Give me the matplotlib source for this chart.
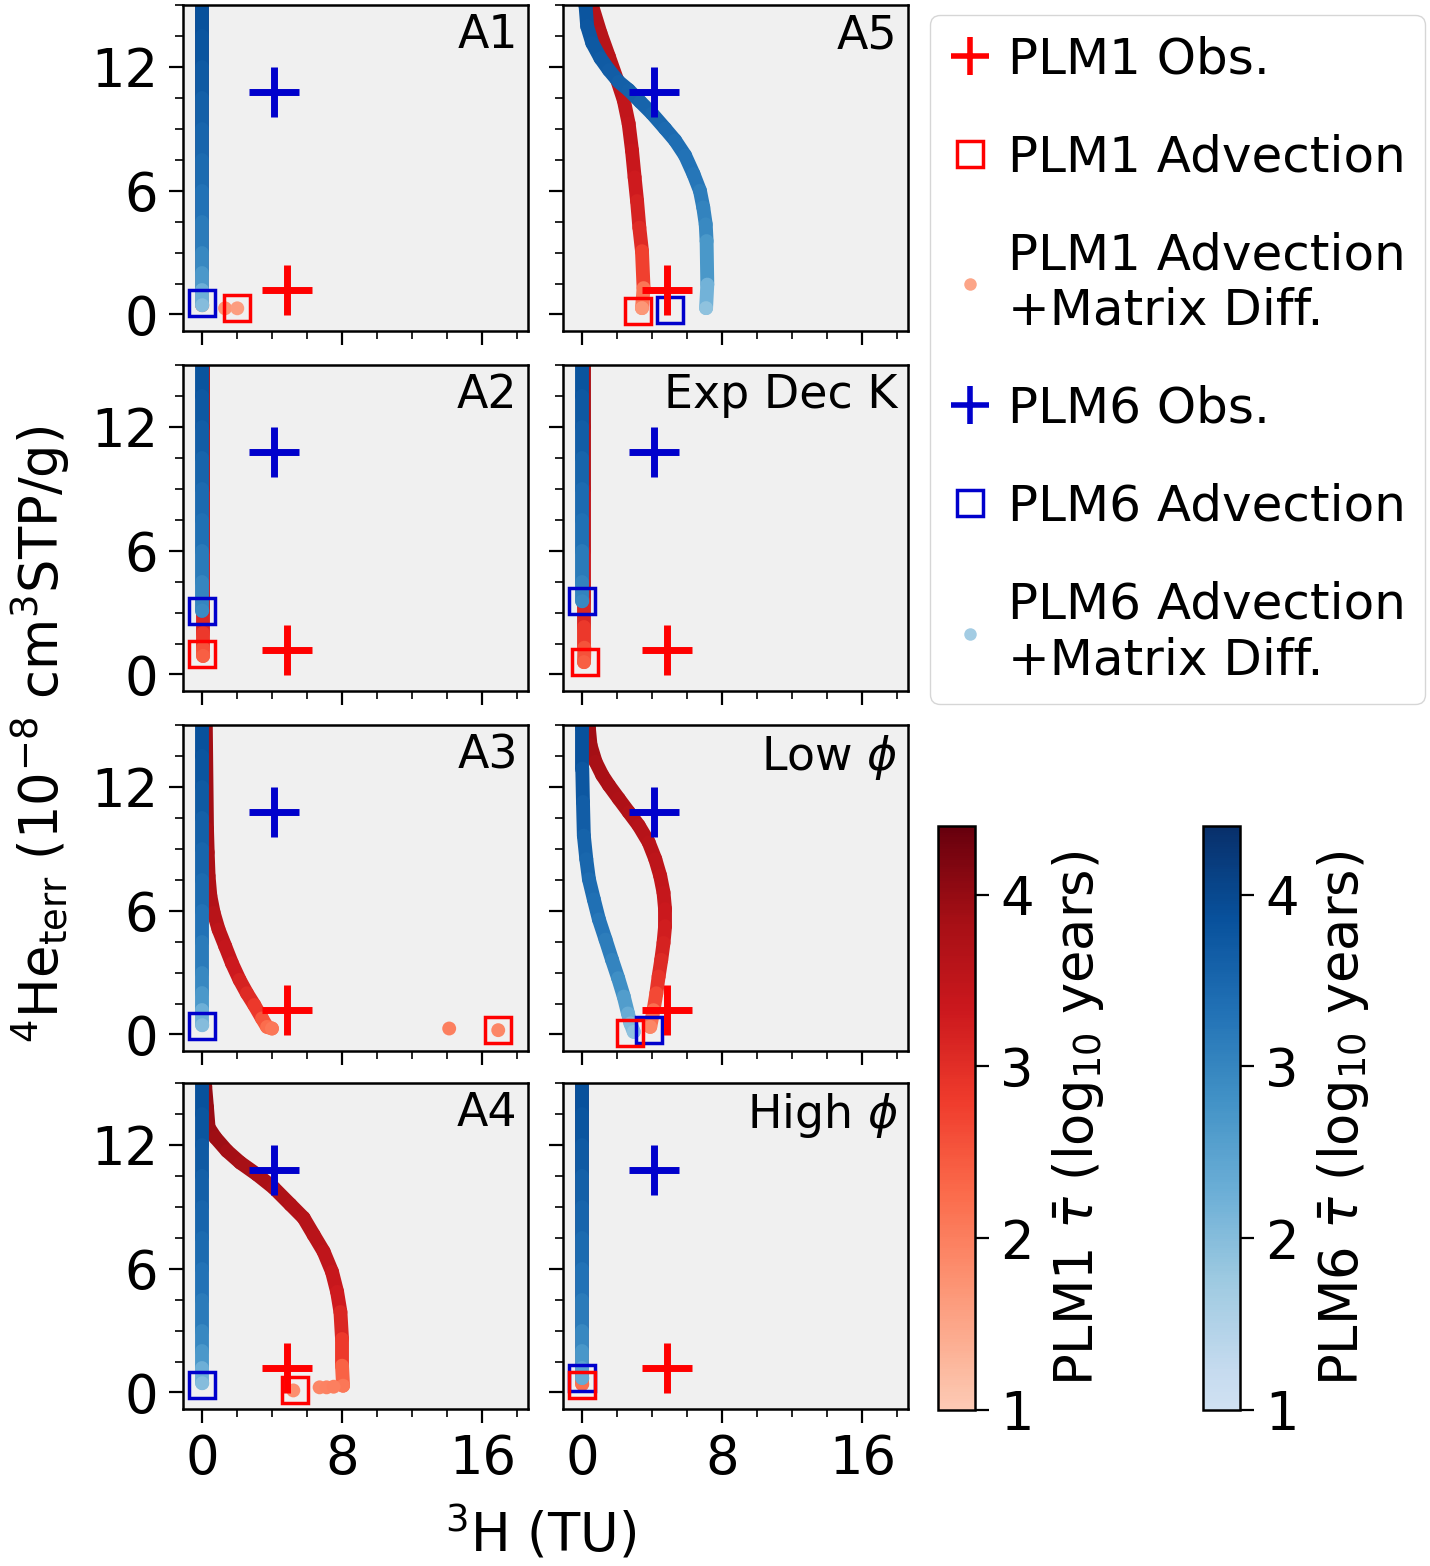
import numpy as np
import matplotlib
matplotlib.use('Agg')
import matplotlib.pyplot as plt
from matplotlib.collections import LineCollection
from matplotlib.colors import ListedColormap, Normalize
from matplotlib.lines import Line2D
from matplotlib.ticker import AutoMinorLocator
import matplotlib.cm as cm

# ---- data (x = 3H in TU, y = 4He_terr, tau = log10 mean age) ----
plm1_obs = (4.85, 1.2)
plm6_obs = (4.1, 10.8)

panel_names = ['A1', 'A5', 'A2', 'Exp Dec K', 'A3', r'Low $\phi$', 'A4', r'High $\phi$']

# vertical model tracks (x ~ 0)
vert_y = [15.2, 13.5, 12.0, 10.5, 9.0, 7.5, 6.0, 4.5, 3.0, 2.0, 1.2, 0.45]
vert_tau = [3.9, 3.82, 3.75, 3.66, 3.57, 3.48, 3.38, 3.25, 3.08, 2.85, 2.5, 2.0]

# A1
a1_plm1_x = [0.0] * 12
a1_plm1_y = vert_y
a1_plm1_tau = vert_tau
a1_plm1_dots_x = [1.3, 2.0]
a1_plm1_dots_y = [0.3, 0.3]
a1_plm1_dots_tau = [1.7, 1.6]
a1_plm6_x = [0.0] * 12
a1_plm6_y = vert_y
a1_plm6_tau = vert_tau
a1_adv = [(2.0, 0.3), (0.0, 0.55)]   # PLM1, PLM6

# A5
a5_plm1_x = [0.45, 0.57, 1.04, 1.52, 1.99, 2.37, 2.65, 2.84, 2.99, 3.13, 3.26, 3.41, 3.5, 3.41]
a5_plm1_y = [15.2, 14.94, 13.64, 12.5, 11.37, 10.39, 9.25, 7.95, 6.65, 5.5, 4.21, 3.07, 1.28, 0.31]
a5_plm1_tau = [3.65, 3.65, 3.6, 3.58, 3.55, 3.5, 3.45, 3.4, 3.33, 3.25, 3.12, 2.95, 2.55, 1.7]
a5_plm1_dots_x = []
a5_plm1_dots_y = []
a5_plm1_dots_tau = []
a5_plm6_x = [0.15, 0.19, 0.28, 0.57, 1.04, 1.52, 2.08, 2.65, 3.31, 3.98, 4.73, 5.3, 5.87, 6.35,
             6.72, 6.91, 7.05, 7.1, 7.14, 7.07]
a5_plm6_y = [15.2, 14.94, 13.97, 13.16, 12.42, 11.85, 11.28, 10.88, 10.31, 9.74, 9.01, 8.44, 7.71,
             6.81, 6.0, 5.19, 4.37, 3.56, 1.45, 0.31]
a5_plm6_tau = [3.8, 3.8, 3.77, 3.74, 3.7, 3.67, 3.63, 3.6, 3.56, 3.52, 3.47, 3.42, 3.36, 3.28,
               3.2, 3.1, 3.0, 2.88, 2.5, 1.9]
a5_adv = [(3.16, 0.18), (5.0, 0.24)]

# A2
a2_plm1_x = [0.05] * 8
a2_plm1_y = [15.2, 12.0, 9.0, 6.0, 3.0, 2.0, 1.3, 0.9]
a2_plm1_tau = [3.85, 3.72, 3.57, 3.4, 3.2, 3.0, 2.7, 2.4]
a2_plm1_dots_x = []
a2_plm1_dots_y = []
a2_plm1_dots_tau = []
a2_plm6_x = [0.0] * 9
a2_plm6_y = [15.2, 13.5, 12.0, 10.5, 9.0, 7.5, 6.0, 4.5, 3.1]
a2_plm6_tau = [3.85, 3.78, 3.7, 3.6, 3.5, 3.4, 3.28, 3.12, 2.9]
a2_adv = [(0.0, 0.99), (0.0, 3.1)]

# Exp Dec K
ek_plm1_x = [0.12, 0.12, 0.12, 0.12, 0.12, 0.12, 0.12, 0.1]
ek_plm1_y = [15.2, 12.0, 9.0, 6.0, 3.5, 2.3, 1.3, 0.6]
ek_plm1_tau = [3.85, 3.72, 3.57, 3.4, 3.2, 3.0, 2.7, 2.4]
ek_plm1_dots_x = []
ek_plm1_dots_y = []
ek_plm1_dots_tau = []
ek_plm6_x = [0.0] * 9
ek_plm6_y = [15.2, 13.5, 12.0, 10.5, 9.0, 7.5, 6.0, 4.5, 3.55]
ek_plm6_tau = [3.85, 3.78, 3.7, 3.6, 3.5, 3.4, 3.28, 3.12, 2.95]
ek_adv = [(0.13, 0.59), (0.0, 3.55)]

# A3
a3_plm1_x = [0.2, 0.27, 0.31, 0.36, 0.46, 0.65, 0.93, 1.31, 1.69, 2.13, 2.55, 2.97, 3.41, 3.7, 3.98]
a3_plm1_y = [15.2, 9.97, 8.83, 7.69, 6.72, 5.9, 5.09, 4.28, 3.46, 2.65, 2.0, 1.43, 0.78, 0.37, 0.29]
a3_plm1_tau = [3.95, 3.8, 3.77, 3.73, 3.68, 3.63, 3.55, 3.47, 3.38, 3.25, 3.12, 2.98, 2.7, 2.35, 2.1]
a3_plm1_dots_x = [14.1, 16.9]
a3_plm1_dots_y = [0.29, 0.21]
a3_plm1_dots_tau = [2.0, 1.9]
a3_plm6_x = [0.0] * 12
a3_plm6_y = vert_y
a3_plm6_tau = vert_tau
a3_adv = [(16.9, 0.21), (0.0, 0.4)]

# Low phi
lo_plm1_x = [0.33, 0.38, 0.47, 0.76, 1.14, 1.52, 2.08, 2.65, 3.22, 3.79, 4.17, 4.45, 4.64, 4.73,
             4.73, 4.64, 4.51, 4.36, 4.23, 4.07, 3.88]
lo_plm1_y = [15.2, 14.84, 14.03, 13.22, 12.57, 12.08, 11.43, 10.78, 10.13, 9.32, 8.5, 7.69, 6.88,
             6.06, 5.25, 4.44, 3.62, 2.81, 2.0, 1.18, 0.37]
lo_plm1_tau = [3.9, 3.9, 3.87, 3.83, 3.8, 3.77, 3.73, 3.69, 3.65, 3.6, 3.55, 3.5, 3.44, 3.38,
               3.3, 3.22, 3.12, 3.0, 2.8, 2.5, 1.9]
lo_plm1_dots_x = []
lo_plm1_dots_y = []
lo_plm1_dots_tau = []
lo_plm6_x = [0.0, 0.0, 0.0, 0.04, 0.09, 0.23, 0.38, 0.66, 0.95, 1.33, 1.7, 2.05, 2.37, 2.61, 2.75, 2.94]
lo_plm6_y = [15.2, 14.84, 12.89, 11.27, 9.64, 8.5, 7.53, 6.55, 5.58, 4.6, 3.62, 2.73, 1.84, 1.02,
             0.54, 0.13]
lo_plm6_tau = [3.9, 3.9, 3.8, 3.7, 3.6, 3.52, 3.45, 3.38, 3.3, 3.2, 3.1, 2.95, 2.75, 2.45, 2.2, 1.9]
lo_adv = [(2.75, 0.05), (3.83, 0.24)]

# A4
a4_plm1_x = [0.15, 0.17, 0.27, 0.36, 0.74, 1.41, 2.17, 3.12, 4.08, 5.03, 5.79, 6.36, 6.93, 7.41,
             7.7, 7.89, 7.98, 7.98, 8.04]
a4_plm1_y = [15.2, 14.8, 13.82, 12.85, 12.36, 11.71, 11.14, 10.57, 9.92, 9.11, 8.46, 7.64, 6.83,
             5.85, 4.88, 3.9, 2.6, 1.3, 0.33]
a4_plm1_tau = [4.0, 4.0, 3.97, 3.94, 3.92, 3.88, 3.84, 3.8, 3.75, 3.7, 3.65, 3.6, 3.53, 3.45,
               3.35, 3.22, 3.0, 2.65, 2.1]
a4_plm1_dots_x = [5.2, 6.7, 7.1, 7.5]
a4_plm1_dots_y = [0.1, 0.25, 0.25, 0.28]
a4_plm1_dots_tau = [1.8, 1.9, 1.95, 2.0]
a4_plm6_x = [0.0] * 12
a4_plm6_y = vert_y
a4_plm6_tau = vert_tau
a4_adv = [(5.3, 0.1), (0.0, 0.34)]

# High phi
hi_plm1_x = [0.0] * 6
hi_plm1_y = [15.2, 9.0, 3.0, 1.5, 0.8, 0.4]
hi_plm1_tau = [3.9, 3.6, 3.1, 2.7, 2.4, 2.2]
hi_plm1_dots_x = []
hi_plm1_dots_y = []
hi_plm1_dots_tau = []
hi_plm6_x = [0.0] * 12
hi_plm6_y = [15.2, 13.5, 12.0, 10.5, 9.0, 7.5, 6.0, 4.5, 3.0, 2.0, 1.2, 0.7]
hi_plm6_tau = [3.9, 3.82, 3.75, 3.66, 3.57, 3.48, 3.38, 3.25, 3.08, 2.85, 2.6, 2.35]
hi_adv = [(0.0, 0.35), (0.0, 0.72)]

panels = [
    (a1_plm1_x, a1_plm1_y, a1_plm1_tau, a1_plm1_dots_x, a1_plm1_dots_y, a1_plm1_dots_tau, a1_plm6_x, a1_plm6_y, a1_plm6_tau, a1_adv),
    (a5_plm1_x, a5_plm1_y, a5_plm1_tau, a5_plm1_dots_x, a5_plm1_dots_y, a5_plm1_dots_tau, a5_plm6_x, a5_plm6_y, a5_plm6_tau, a5_adv),
    (a2_plm1_x, a2_plm1_y, a2_plm1_tau, a2_plm1_dots_x, a2_plm1_dots_y, a2_plm1_dots_tau, a2_plm6_x, a2_plm6_y, a2_plm6_tau, a2_adv),
    (ek_plm1_x, ek_plm1_y, ek_plm1_tau, ek_plm1_dots_x, ek_plm1_dots_y, ek_plm1_dots_tau, ek_plm6_x, ek_plm6_y, ek_plm6_tau, ek_adv),
    (a3_plm1_x, a3_plm1_y, a3_plm1_tau, a3_plm1_dots_x, a3_plm1_dots_y, a3_plm1_dots_tau, a3_plm6_x, a3_plm6_y, a3_plm6_tau, a3_adv),
    (lo_plm1_x, lo_plm1_y, lo_plm1_tau, lo_plm1_dots_x, lo_plm1_dots_y, lo_plm1_dots_tau, lo_plm6_x, lo_plm6_y, lo_plm6_tau, lo_adv),
    (a4_plm1_x, a4_plm1_y, a4_plm1_tau, a4_plm1_dots_x, a4_plm1_dots_y, a4_plm1_dots_tau, a4_plm6_x, a4_plm6_y, a4_plm6_tau, a4_adv),
    (hi_plm1_x, hi_plm1_y, hi_plm1_tau, hi_plm1_dots_x, hi_plm1_dots_y, hi_plm1_dots_tau, hi_plm6_x, hi_plm6_y, hi_plm6_tau, hi_adv),
]

# ---- colour maps (light end cut off) ----
reds = ListedColormap(plt.get_cmap('Reds')(np.linspace(0.2, 1.0, 256)))
blues = ListedColormap(plt.get_cmap('Blues')(np.linspace(0.2, 1.0, 256)))
norm = Normalize(vmin=1, vmax=4.4)

red_c = '#ff0000'
blue_c = '#0000cc'
LW = 10
FS = 38


def draw_curve(ax, x, y, tau, cmap):
    pts = np.column_stack([x, y])
    segs = np.stack([pts[:-1], pts[1:]], axis=1)
    seg_tau = (np.array(tau[:-1]) + np.array(tau[1:])) / 2
    lc = LineCollection(segs, cmap=cmap, norm=norm, linewidths=LW, capstyle='round', joinstyle='round')
    lc.set_array(seg_tau)
    ax.add_collection(lc)
    ax.scatter(x[-1:], y[-1:], c=tau[-1:], cmap=cmap, norm=norm, s=LW ** 2, edgecolors='none', zorder=2)


fig = plt.figure(figsize=(14.3, 15.66), dpi=100)
W, H = 1430, 1566
col_left = [183, 563]
row_top = [5, 365, 725, 1083]
ax_w, ax_h = 345, 326

for i, (r1x, r1y, r1t, dx, dy, dt, r6x, r6y, r6t, adv) in enumerate(panels):
    row, col = divmod(i, 2)
    ax = fig.add_axes([col_left[col] / W, 1 - (row_top[row] + ax_h) / H, ax_w / W, ax_h / H])
    ax.set_facecolor('#f0f0f0')
    draw_curve(ax, r1x, r1y, r1t, reds)
    draw_curve(ax, r6x, r6y, r6t, blues)
    if dx:
        ax.scatter(dx, dy, c=dt, cmap=reds, norm=norm, s=LW ** 2, edgecolors='none', zorder=2)
    ax.plot(*adv[1], marker='s', ms=19, mfc='none', mec=blue_c, mew=2.5, ls='none', zorder=4)
    ax.plot(*adv[0], marker='s', ms=19, mfc='none', mec=red_c, mew=2.5, ls='none', zorder=4)
    ax.plot(*plm1_obs, marker='+', ms=36, mew=5, color=red_c, ls='none', zorder=5)
    ax.plot(*plm6_obs, marker='+', ms=36, mew=5, color=blue_c, ls='none', zorder=5)

    ax.set_xlim(-1.1, 18.6)
    ax.set_ylim(-0.8, 15)
    ax.set_xticks([0, 8, 16])
    ax.set_yticks([0, 6, 12])
    ax.xaxis.set_minor_locator(AutoMinorLocator(4))
    ax.yaxis.set_minor_locator(AutoMinorLocator(4))
    ax.tick_params(which='major', direction='out', length=10, width=1.6, labelsize=FS)
    ax.tick_params(which='minor', direction='out', length=6, width=1.2)
    ax.tick_params(axis='x', which='major', pad=7)
    ax.tick_params(axis='y', which='major', pad=8)
    if col == 1:
        ax.tick_params(labelleft=False)
    if row < 3:
        ax.tick_params(labelbottom=False)
    for s in ax.spines.values():
        s.set_linewidth(1.8)
    ax.text(0.97, 0.975, panel_names[i], transform=ax.transAxes, ha='right', va='top', fontsize=33)

# axis labels
fig.text(0.028, 0.531, r'$^4$He$_{\rm terr}$ (10$^{-8}$ cm$^3$STP/g)', rotation=90,
         ha='center', va='center', fontsize=FS)
fig.text(0.378, 0.021, r'$^3$H (TU)', ha='center', va='center', fontsize=FS)

# colour bars
for left, cmap, name in [(938, reds, 'PLM1'), (1203, blues, 'PLM6')]:
    cax = fig.add_axes([left / W, 1 - 1410 / H, 37 / W, 584 / H])
    cb = fig.colorbar(cm.ScalarMappable(norm=norm, cmap=cmap), cax=cax, ticks=[1, 2, 3, 4])
    cb.ax.tick_params(labelsize=FS, length=10, width=1.6, pad=8)
    cb.outline.set_linewidth(1.8)
    cb.set_label(name + r' $\bar{\tau}$ (log$_{10}$ years)', fontsize=FS, labelpad=12)

# legend
handles = [
    Line2D([], [], marker='+', ms=27, mew=4, color=red_c, ls='none'),
    Line2D([], [], marker='s', ms=19, mfc='none', mec=red_c, mew=2.5, ls='none'),
    Line2D([], [], marker='o', ms=9, mfc=reds(0.15), mec='none', ls='none'),
    Line2D([], [], marker='+', ms=27, mew=4, color=blue_c, ls='none'),
    Line2D([], [], marker='s', ms=19, mfc='none', mec=blue_c, mew=2.5, ls='none'),
    Line2D([], [], marker='o', ms=9, mfc=blues(0.2), mec='none', ls='none'),
]
labels = ['PLM1 Obs.', 'PLM1 Advection', 'PLM1 Advection\n+Matrix Diff.',
          'PLM6 Obs.', 'PLM6 Advection', 'PLM6 Advection\n+Matrix Diff.']
fig.legend(handles, labels, loc='upper left', bbox_to_anchor=(930 / W, 1 - 15 / H),
           fontsize=36, handlelength=0.8, handletextpad=0.35, labelspacing=1.0,
           borderpad=0.4, borderaxespad=0, frameon=True)

fig.savefig('out.png', dpi=100)
